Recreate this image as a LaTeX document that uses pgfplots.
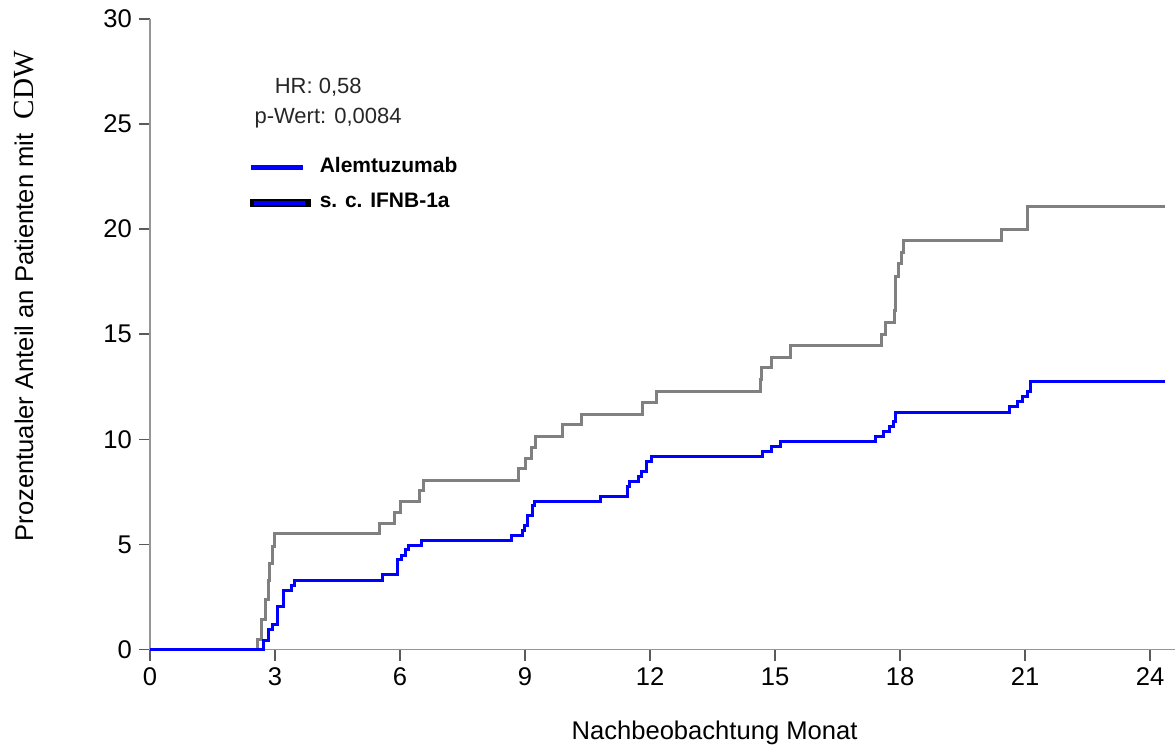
\documentclass[border=0pt]{standalone}
\usepackage{pgfplots}
\pgfplotsset{compat=1.18}
\usepackage{fontspec}
\setmainfont{Liberation Sans}
\newfontfamily\serifcdw{Liberation Serif}
\definecolor{axgray}{RGB}{150,150,150}
\definecolor{tickgray}{RGB}{90,90,90}
\definecolor{ifngray}{RGB}{128,128,128}
\definecolor{alemblue}{RGB}{0,0,255}

\begin{document}
\begin{tikzpicture}
\begin{axis}[
  scale only axis, width=513pt, height=315.5pt,
  xmin=0, xmax=24.6, ymin=0, ymax=30,
  axis x line=bottom, axis y line=left,
  axis line style={-, axgray, line width=0.8pt},
  xtick={0,3,...,24}, ytick={0,5,...,30},
  tick align=outside, major tick length=5.5pt,
  tick style={tickgray, line width=0.8pt},
  tick label style={font=\fontsize{12.8}{14}\selectfont, black},
  /pgf/number format/assume math mode=true,
  clip=false,
  reverse legend,
  legend cell align=left,
  legend style={draw=none, fill=none, inner sep=0pt, outer sep=0pt,
    at={(axis description cs:0.0936,0.7818)}, anchor=north west,
    row sep=7.5pt,
    nodes={inner sep=0pt, text height=8pt, text depth=2pt,
      font=\fontsize{10.5}{12}\selectfont\bfseries}},
]
% s. c. IFNB-1a (grey)
\addplot[ifngray, line width=1.5pt, const plot,
  legend image code/.code={
    \path[draw=none, fill=none] (0pt,0pt) -- (35pt,0pt);
    \draw[black, line width=4pt] (0pt,-0.5pt) -- (30.5pt,-0.5pt);
    \draw[alemblue, line width=2pt] (2pt,-0.5pt) -- (27.5pt,-0.5pt);}]
coordinates {
(0,0) (2.58,0.5) (2.68,1.45) (2.77,2.4) (2.84,3.3) (2.88,4.1) (2.93,4.9)
(2.98,5.5) (5.52,6.0) (5.88,6.5) (6.02,7.05) (6.47,7.55) (6.57,8.05)
(8.85,8.6) (9.02,9.1) (9.16,9.6) (9.26,10.15) (9.9,10.7) (10.36,11.2)
(11.82,11.75) (12.16,12.3) (14.65,12.85) (14.68,13.4) (14.92,13.9)
(15.37,14.45) (17.55,15.0) (17.65,15.55) (17.87,16.15) (17.89,17.75)
(17.96,18.35) (18.03,18.9) (18.08,19.45) (20.43,20.0) (21.05,21.1)
(24.36,21.1)
};
\addlegendentry{s. c. IFNB-1a}
% Alemtuzumab (blue)
\addplot[alemblue, line width=1.5pt, const plot,
  legend image code/.code={
    \path[draw=none, fill=none] (0pt,0pt) -- (35pt,0pt);
    \draw[alemblue, line width=2.8pt] (0.5pt,-0.5pt) -- (26.5pt,-0.5pt);}]
coordinates {
(0,0) (2.72,0.45) (2.84,0.95) (2.95,1.2) (3.05,2.06) (3.2,2.8) (3.4,3.05)
(3.48,3.3) (5.59,3.55) (5.93,4.28) (6.04,4.47) (6.14,4.75) (6.21,4.95)
(6.52,5.18) (8.68,5.42) (8.94,5.66) (8.99,5.9) (9.06,6.37) (9.18,6.85)
(9.22,7.05) (10.82,7.28) (11.46,7.75) (11.5,7.99) (11.73,8.23) (11.8,8.46)
(11.92,8.94) (12.04,9.18) (14.7,9.41) (14.92,9.65) (15.13,9.89)
(17.41,10.13) (17.6,10.37) (17.75,10.6) (17.84,10.84) (17.89,11.3)
(20.62,11.55) (20.82,11.8) (20.93,12.03) (21.05,12.27) (21.13,12.74)
(24.36,12.74)
};
\addlegendentry{Alemtuzumab}

\node[anchor=base, font=\fontsize{11}{13}\selectfont, text=black!85]
  at (rel axis cs:0.1642,0.8823) {HR: 0,58};
\node[anchor=base, font=\fontsize{11}{13}\selectfont, text=black!85]
  at (rel axis cs:0.1738,0.8336) {p-Wert: 0,0084};
\node[anchor=base, rotate=90, font=\fontsize{12.8}{14}\selectfont]
  at (rel axis cs:-0.114,0.5602)
  {Prozentualer Anteil an Patienten mit\ \ {\serifcdw\fontsize{14.6}{16}\selectfont CDW}};
\node[anchor=base, font=\fontsize{12.8}{14}\selectfont]
  at (rel axis cs:0.5507,-0.1426) {Nachbeobachtung Monat};
\path (rel axis cs:-0.1462,-0.149) rectangle (rel axis cs:1,1.0301);
\end{axis}
\end{tikzpicture}
\end{document}
